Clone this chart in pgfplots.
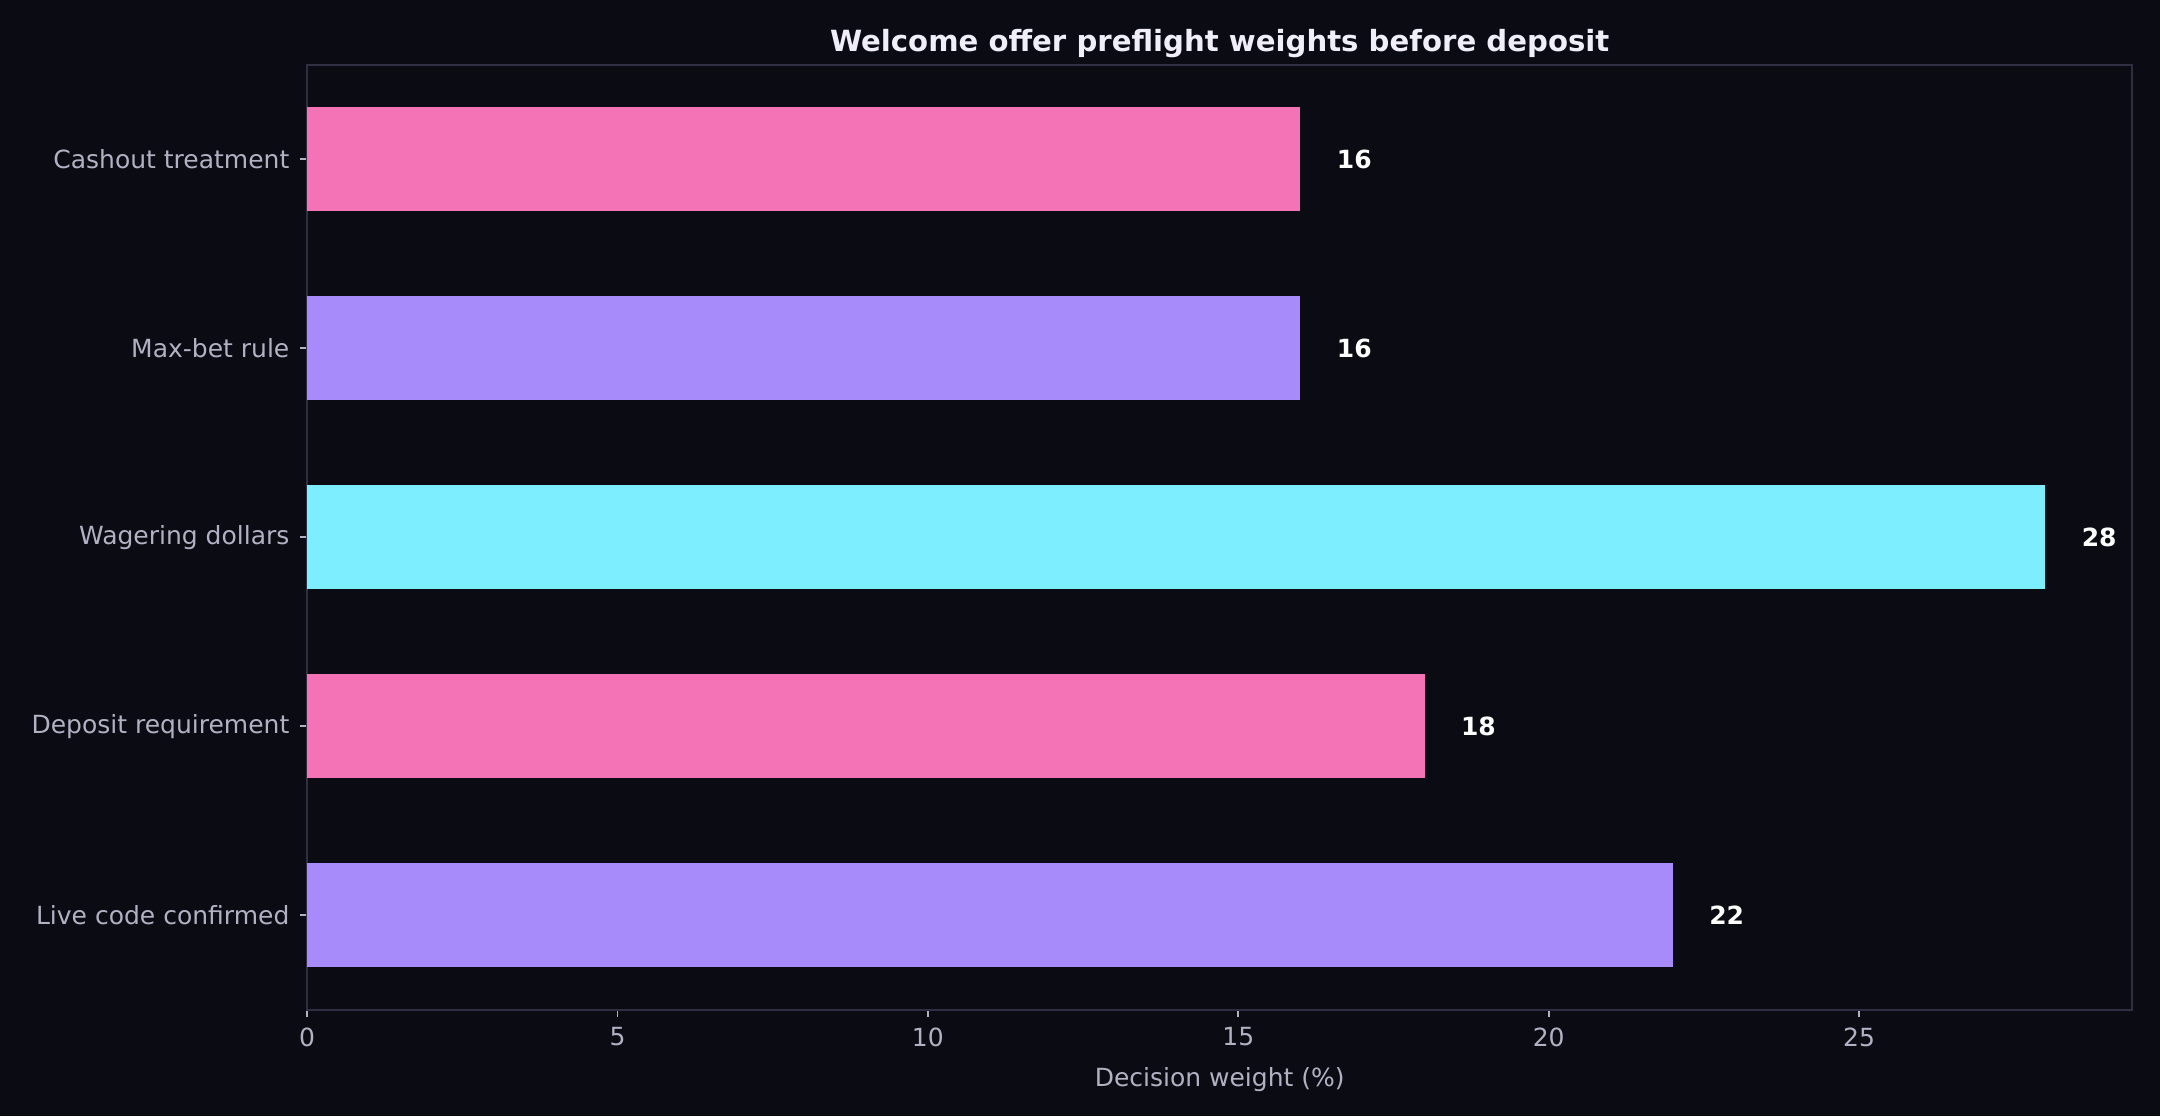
\documentclass[border=0pt]{standalone}
\usepackage{pgfplots}
\pgfplotsset{compat=1.18}
\usepackage{fontspec}
\setmainfont{DejaVu Sans}

\definecolor{bg}{HTML}{0B0B13}
\definecolor{frame}{HTML}{2F2E42}
\definecolor{ticktext}{HTML}{B4B0C4}
\definecolor{titletext}{HTML}{F0EEF8}
\definecolor{pinkbar}{HTML}{F472B6}
\definecolor{violetbar}{HTML}{A78BFA}
\definecolor{cyanbar}{HTML}{7DEEFF}

\begin{document}
\begin{tikzpicture}
% page: 14.4in x 7.44in
\fill[bg] (0,0) rectangle (1036.8pt,535.7pt);
\begin{axis}[
    at={(147.4pt,51pt)}, anchor=south west,
    scale only axis, width=876.1pt, height=453.6pt,
    xbar, bar width=0.55,
    xmin=0, xmax=29.4,
    ymin=-0.5, ymax=4.5,
    ytick={0,1,2,3,4},
    yticklabels={Live code confirmed, Deposit requirement, Wagering dollars, Max-bet rule, Cashout treatment},
    xtick={0,5,10,15,20,25},
    /pgf/number format/assume math mode=true,
    tick align=outside, major tick length=3.5pt,
    tick style={color=ticktext, line width=0.8pt},
    xtick pos=bottom, ytick pos=left,
    axis line style={draw=frame, line width=0.8pt},
    ticklabel style={font=\fontsize{12}{14}\selectfont, text=ticktext},
    yticklabel style={inner sep=0pt, xshift=-4.8pt},
    xticklabel style={inner sep=0pt, yshift=-4.8pt},
    xlabel={Decision weight (\%)},
    xlabel style={font=\fontsize{12}{14}\selectfont, text=ticktext, inner sep=0pt, yshift=-10pt},
    title={Welcome offer preflight weights before deposit},
    title style={at={(0.5,1)}, anchor=base, inner sep=0pt, yshift=0.6pt,
        font=\bfseries\fontsize{14}{16}\selectfont, text=titletext},
    nodes near coords,
    every node near coord/.append style={anchor=west, xshift=17.3pt, inner sep=0pt,
        font=\bfseries\fontsize{12}{14}\selectfont, text=white},
    point meta=explicit symbolic,
]
\addplot[draw=none, fill=violetbar, bar shift=0pt] coordinates {(22,0) [22]};
\addplot[draw=none, fill=pinkbar, bar shift=0pt] coordinates {(18,1) [18]};
\addplot[draw=none, fill=cyanbar, bar shift=0pt] coordinates {(28,2) [28]};
\addplot[draw=none, fill=violetbar, bar shift=0pt] coordinates {(16,3) [16]};
\addplot[draw=none, fill=pinkbar, bar shift=0pt] coordinates {(16,4) [16]};
\end{axis}
\pgfresetboundingbox
\useasboundingbox (0,0) rectangle (1036.8pt,535.7pt);
\end{tikzpicture}
\end{document}
